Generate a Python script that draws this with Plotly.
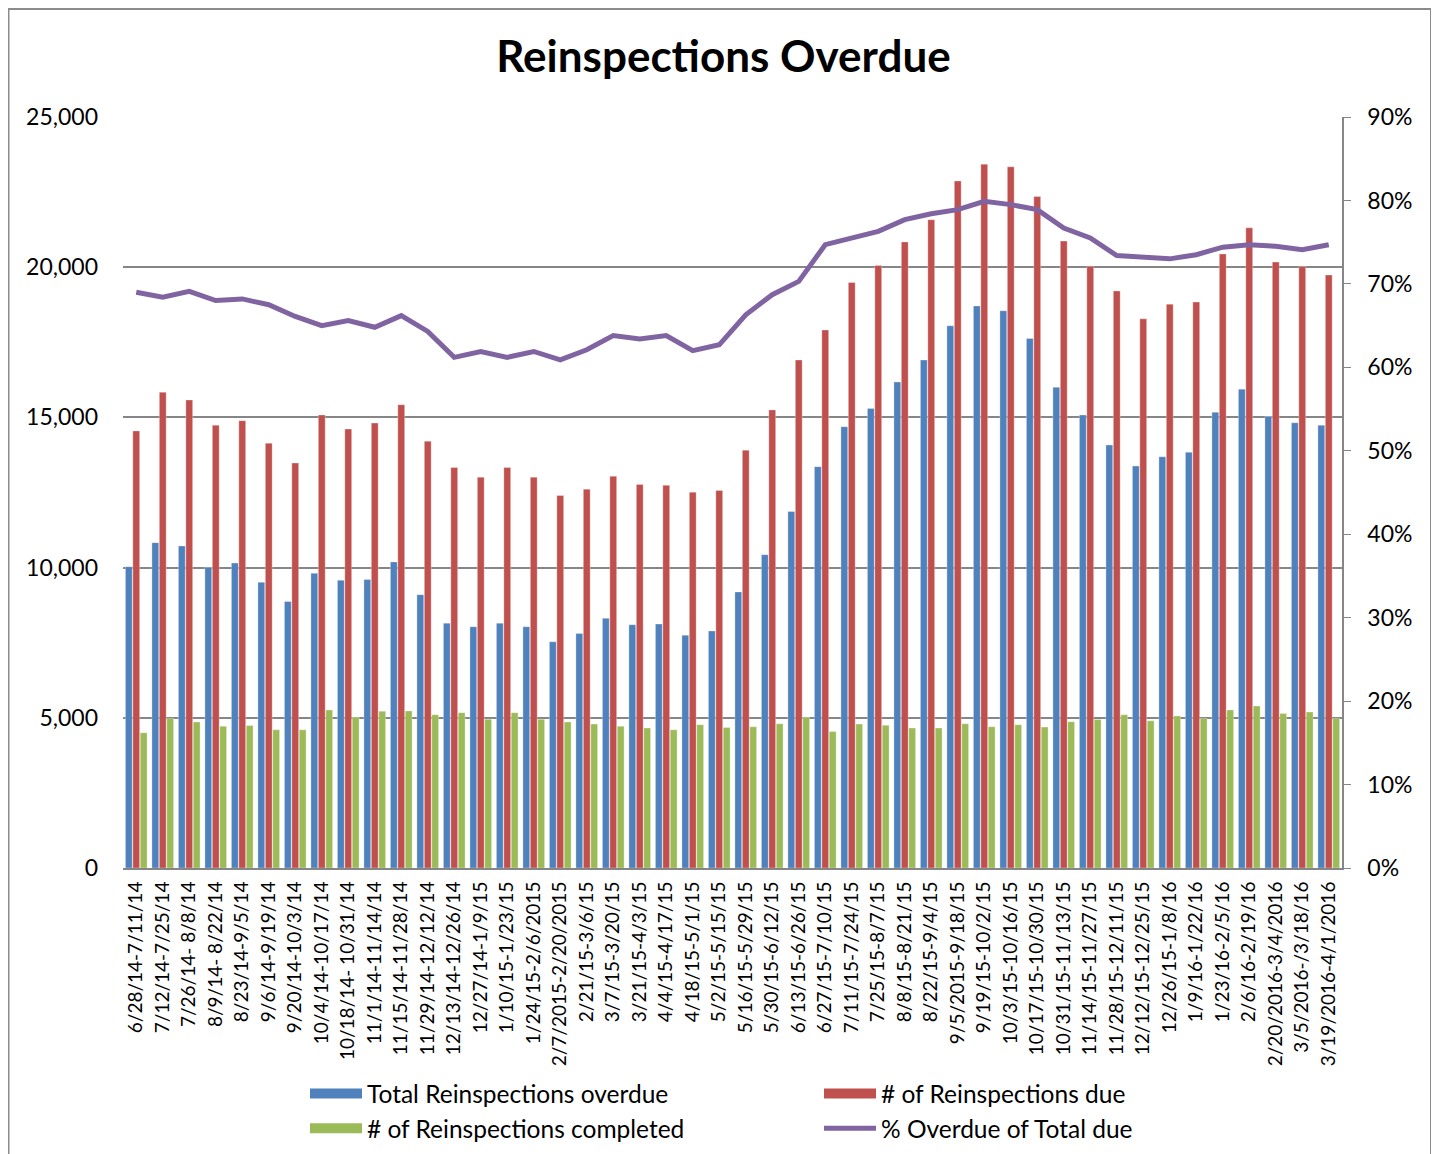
import plotly.graph_objects as go

# two-week periods
periods = [
    "6/28/14-7/11/14", "7/12/14-7/25/14", "7/26/14- 8/8/14", "8/9/14- 8/22/14",
    "8/23/14-9/5/14", "9/6/14-9/19/14", "9/20/14-10/3/14", "10/4/14-10/17/14",
    "10/18/14- 10/31/14", "11/1/14-11/14/14", "11/15/14-11/28/14", "11/29/14-12/12/14",
    "12/13/14-12/26/14", "12/27/14-1/9/15", "1/10/15-1/23/15", "1/24/15-2/6/2015",
    "2/7/2015-2/20/2015", "2/21/15-3/6/15", "3/7/15-3/20/15", "3/21/15-4/3/15",
    "4/4/15-4/17/15", "4/18/15-5/1/15", "5/2/15-5/15/15", "5/16/15-5/29/15",
    "5/30/15-6/12/15", "6/13/15-6/26/15", "6/27/15-7/10/15", "7/11/15-7/24/15",
    "7/25/15-8/7/15", "8/8/15-8/21/15", "8/22/15-9/4/15", "9/5/2015-9/18/15",
    "9/19/15-10/2/15", "10/3/15-10/16/15", "10/17/15-10/30/15", "10/31/15-11/13/15",
    "11/14/15-11/27/15", "11/28/15-12/11/15", "12/12/15-12/25/15", "12/26/15-1/8/16",
    "1/9/16-1/22/16", "1/23/16-2/5/16", "2/6/16-2/19/16", "2/20/2016-3/4/2016",
    "3/5/2016-/3/18/16", "3/19/2016-4/1/2016",
]

total_overdue = [
    10030, 10830, 10720, 10010, 10150, 9510, 8870, 9810, 9580, 9600, 10190, 9100,
    8150, 8030, 8150, 8030, 7530, 7810, 8310, 8100, 8120, 7750, 7890, 9190,
    10430, 11870, 13360, 14690, 15300, 16180, 16910, 18050, 18710, 18550, 17630, 16000,
    15080, 14080, 13380, 13690, 13840, 15170, 15940, 15030, 14820, 14740,
]

due = [
    14550, 15840, 15580, 14740, 14890, 14140, 13480, 15080, 14610, 14810, 15420, 14210,
    13330, 13010, 13330, 13010, 12400, 12610, 13040, 12770, 12740, 12510, 12570, 13910,
    15250, 16910, 17910, 19490, 20060, 20840, 21580, 22870, 23430, 23340, 22350, 20870,
    20030, 19210, 18280, 18770, 18840, 20440, 21310, 20170, 20020, 19740,
]

completed = [
    4500, 4980, 4860, 4720, 4740, 4600, 4600, 5260, 5030, 5220, 5230, 5100,
    5170, 4950, 5170, 4950, 4860, 4790, 4720, 4660, 4600, 4770, 4680, 4700,
    4800, 5020, 4540, 4790, 4750, 4660, 4660, 4800, 4700, 4770, 4690, 4870,
    4940, 5100, 4900, 5060, 4980, 5260, 5390, 5140, 5190, 4980,
]

pct_overdue = [
    69.0, 68.4, 69.1, 68.0, 68.2, 67.5, 66.1, 65.0, 65.6, 64.8, 66.2, 64.3,
    61.2, 61.9, 61.2, 61.9, 60.9, 62.1, 63.8, 63.4, 63.8, 62.0, 62.7, 66.3,
    68.7, 70.3, 74.7, 75.5, 76.3, 77.7, 78.4, 78.9, 79.9, 79.5, 78.9, 76.7,
    75.5, 73.4, 73.2, 73.0, 73.5, 74.4, 74.7, 74.5, 74.1, 74.7,
]

pct_ticks = [0, 10, 20, 30, 40, 50, 60, 70, 80, 90]
count_ticks = [0, 5000, 10000, 15000, 20000, 25000]

BLUE = "#4F81BD"
RED = "#C0504D"
GREEN = "#9BBB59"
PURPLE = "#8064A2"
GRID = "#868686"
FONT = "Lato, Open Sans, sans-serif"

fig = go.Figure()

# bars (legend entries drawn separately so the swatches are wide like Excel's)
for vals, color, name in [
    (total_overdue, BLUE, "Total Reinspections overdue"),
    (due, RED, "# of Reinspections due"),
    (completed, GREEN, "# of Reinspections completed"),
]:
    fig.add_trace(go.Bar(
        x=periods, y=vals, name=name, marker_color=color,
        marker_line=dict(color="rgba(255,255,255,0.6)", width=0.5),
        showlegend=False,
    ))

fig.add_trace(go.Scatter(
    x=periods, y=pct_overdue, name="% Overdue of Total due", yaxis="y2",
    mode="lines", line=dict(color=PURPLE, width=5), showlegend=False,
))

# legend-only entries, two columns as two legends
for color, name, width, leg in [
    (BLUE, "Total Reinspections overdue", 14, "legend"),
    (GREEN, "# of Reinspections completed", 14, "legend"),
    (RED, "# of Reinspections due", 14, "legend2"),
    (PURPLE, "% Overdue of Total due", 5, "legend2"),
]:
    fig.add_trace(go.Scatter(
        x=[None], y=[None], mode="lines", name=name, legend=leg,
        line=dict(color=color, width=width),
    ))

# page body has an 8px margin, so figure pixels = reference pixels - 8
OFF = 8
W, H = 1439 - OFF, 1154 - OFF
L, T = 123 - OFF, 117 - OFF
PR, PB = 1342 - OFF, 868 - OFF
R, B = W - PR, H - PB
pw, ph = PR - L, PB - T


def px_x(x):
    return (x - OFF - L) / pw


def px_y(y):
    return (PB - (y - OFF)) / ph


legend_style = dict(
    orientation="v", xanchor="left", yanchor="top", y=px_y(1071),
    itemwidth=52, font=dict(size=24.5), traceorder="normal",
    bgcolor="rgba(0,0,0,0)", tracegroupgap=0,
)

fig.update_layout(
    width=W, height=H,
    margin=dict(l=L, r=R, t=T, b=B, autoexpand=False),
    paper_bgcolor="white", plot_bgcolor="white",
    font=dict(family=FONT, size=23, color="black"),
    title=dict(text="<b>Reinspections Overdue</b>", x=0.5, xanchor="center",
               y=1 - (57 - OFF) / H, yanchor="middle", font=dict(size=44, family=FONT)),
    barmode="group", bargap=0.16, bargroupgap=0.08,
    xaxis=dict(
        type="category", tickangle=-90, showgrid=False, ticks="",
        showline=True, linecolor=GRID, linewidth=2, ticklabelstandoff=4,
        tickfont=dict(size=19), automargin=False,
    ),
    yaxis=dict(
        range=[0, 25000], tickvals=count_ticks,
        tickformat=",d", showgrid=True, gridcolor=GRID, gridwidth=1.5,
        zeroline=False, showline=False, ticks="", automargin=False,
        ticklabelstandoff=24,
    ),
    yaxis2=dict(
        overlaying="y", side="right", range=[0, 90],
        tickvals=pct_ticks, ticktext=[f"{t}%" for t in pct_ticks],
        showgrid=False, zeroline=False, showline=True, linecolor=GRID, linewidth=1.5,
        ticks="outside", ticklen=7, tickcolor=GRID, automargin=False,
        ticklabelstandoff=12,
    ),
    legend=dict(x=px_x(305), **legend_style),
    legend2=dict(x=px_x(819), **legend_style),
    shapes=[dict(
        type="rect", xref="paper", yref="paper",
        x0=px_x(8.5), x1=px_x(1431),
        y0=px_y(1170), y1=px_y(9),
        line=dict(color="#8c8c8c", width=2), fillcolor="rgba(0,0,0,0)", layer="below",
    )],
)

fig.write_html("out.html")
